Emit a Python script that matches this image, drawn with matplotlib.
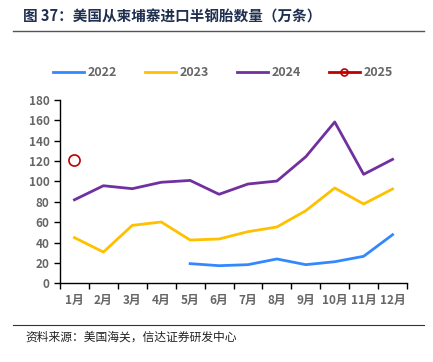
import numpy as np
import matplotlib
matplotlib.use('Agg')
import matplotlib.pyplot as plt
from matplotlib.lines import Line2D

plt.rcParams['font.family'] = ['Noto Sans CJK SC', 'DejaVu Sans']

months = ['1月', '2月', '3月', '4月', '5月', '6月', '7月', '8月', '9月', '10月', '11月', '12月']
v2022 = [np.nan, np.nan, np.nan, np.nan, 19.3, 17.3, 18.3, 23.9, 18.3, 21.2, 26.5, 47.7]
v2023 = [44.8, 30.7, 56.9, 60.2, 42.5, 43.5, 50.7, 55.3, 71.3, 93.6, 77.9, 92.6]
v2024 = [82.0, 95.8, 92.9, 99.2, 101.0, 87.4, 97.5, 100.4, 124.3, 158.4, 107.0, 121.7]
v2025 = [120.8]

fig = plt.figure(figsize=(4.33, 3.62), dpi=100)
ax = fig.add_axes([0.1386, 0.2174, 0.8014, 0.5064])

x = np.arange(len(months))
ax.plot(x, v2022, color='#3388FF', lw=2, label='2022')
ax.plot(x, v2023, color='#FFC000', lw=2, label='2023')
ax.plot(x, v2024, color='#7030A0', lw=2, label='2024')
ax.plot(x[:len(v2025)], v2025, color='#C00000', lw=2, marker='o', ms=8,
        mfc='none', mec='#C00000', mew=1.2, label='2025')

ax.set_xlim(-0.5, 11.5)
ax.set_ylim(0, 180)
ax.set_yticks(range(0, 181, 20))
ax.set_xticks(np.arange(-0.5, 12, 1))
ax.set_xticklabels([])
ax.set_xticks(x, minor=True)
ax.set_xticklabels(months, minor=True)
ax.tick_params(axis='x', which='minor', length=0, pad=8)
ax.tick_params(axis='x', which='major', length=4, width=1, direction='out')
ax.tick_params(axis='y', length=4, width=1, direction='out')
for lab in ax.get_xticklabels(minor=True) + ax.get_yticklabels():
    lab.set_color('#666666')
    lab.set_fontweight('bold')
    lab.set_fontsize(8.5)
for s in ['top', 'right']:
    ax.spines[s].set_visible(False)
ax.spines['left'].set_linewidth(1)
ax.spines['bottom'].set_linewidth(1)

leg = fig.legend(loc='center', bbox_to_anchor=(0.515, 0.80), ncol=4, frameon=False,
                 handlelength=2.5, columnspacing=2.2, handletextpad=0.3,
                 prop={'weight': 'bold', 'size': 9})
for t in leg.get_texts():
    t.set_color('#666666')
leg.legend_handles[3].set_markersize(5)

fig.text(0.053, 0.953, '图 37：美国从柬埔寨进口半钢胎数量（万条）', fontsize=10.5,
         fontweight='bold', color='#1F2F50', va='center', ha='left')
fig.add_artist(Line2D([0.03, 0.98], [0.915, 0.915], color='#555555', lw=1))
fig.add_artist(Line2D([0.03, 0.98], [0.102, 0.102], color='#333333', lw=0.8))
fig.text(0.058, 0.069, '资料来源：美国海关，信达证券研发中心', fontsize=8.5,
         color='#222222', va='center', ha='left', style='italic')

fig.savefig('out.png', dpi=100)
